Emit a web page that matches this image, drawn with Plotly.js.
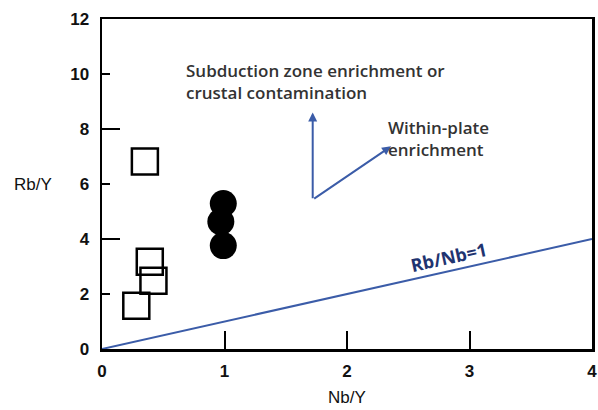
<!DOCTYPE html>
<html><head><meta charset="utf-8">
<script src="https://cdn.plot.ly/plotly-3.0.1.min.js"></script>
<style>html,body{margin:0;padding:0;background:#fff}</style>
</head><body><div id="chart" style="width:598px;height:410px"></div>
<script>
// Open squares
const sqX = [0.35, 0.39, 0.42, 0.28];
const sqY = [6.82, 3.17, 2.48, 1.57];
// Filled circles
const ciX = [0.99, 0.97, 0.99];
const ciY = [5.29, 4.63, 3.76];
// Reference line Rb/Nb = 1
const lineX = [0, 4];
const lineY = [0, 4];
// Arrow vectors: common origin and tips
const arrowOrigin = [1.72, 5.43];
const arrowTips = [[1.72, 8.6], [2.36, 7.37]];
const xTicks = [0, 1, 2, 3, 4];
const yTicks = [0, 2, 4, 6, 8, 10, 12];

const blue = '#3b5ca8';
const traces = [
  {x: lineX, y: lineY, mode: 'lines', line: {color: blue, width: 2}, hoverinfo: 'skip'},
  {x: sqX, y: sqY, mode: 'markers', marker: {symbol: 'square-open', size: 26, color: '#000', line: {width: 2.5, color: '#000'}}},
  {x: ciX, y: ciY, mode: 'markers', marker: {symbol: 'circle', size: 27, color: '#000', line: {width: 0}}},
  {x: [], y: [], yaxis: 'y2', xaxis: 'x'}
];

const tickFont = {family: 'Liberation Sans, Arial, sans-serif', size: 17, color: '#111', weight: 'bold'};
const titleFont = {family: 'Liberation Sans, Arial, sans-serif', size: 17, color: '#111'};
const annFont = {family: 'Open Sans, sans-serif', size: 17, color: '#333', weight: 600};

const annotations = arrowTips.map(t => ({
  x: t[0], y: t[1], ax: arrowOrigin[0], ay: arrowOrigin[1],
  xref: 'x', yref: 'y', axref: 'x', ayref: 'y',
  showarrow: true, arrowhead: 2, arrowsize: 0.9, arrowwidth: 2, arrowcolor: blue, text: ''
}));
annotations.push(
  {x: 0.67, y: 9.74, xref: 'x', yref: 'y', xanchor: 'left', yanchor: 'middle', align: 'left', showarrow: false,
   text: 'Subduction zone enrichment or<br>crustal contamination', font: annFont},
  {x: 2.32, y: 7.66, xref: 'x', yref: 'y', xanchor: 'left', yanchor: 'middle', align: 'left', showarrow: false,
   text: 'Within-plate<br>enrichment', font: annFont},
  {x: 2.83, y: 3.36, xref: 'x', yref: 'y', showarrow: false, textangle: -12.5,
   text: 'Rb/Nb=1', font: {family: 'Open Sans, sans-serif', size: 18, color: '#1f3470', weight: 'bold'}},
  {x: -0.141, y: 0.50, xref: 'paper', yref: 'paper', showarrow: false, xanchor: 'center', yanchor: 'middle',
   text: 'Rb/Y', font: titleFont}
);

const layout = {
  width: 598, height: 410,
  margin: {l: 102, r: 6, t: 19, b: 61},
  paper_bgcolor: '#fff', plot_bgcolor: '#fff',
  showlegend: false,
  xaxis: {range: [0, 4], tickvals: xTicks, ticks: 'inside', ticklen: 18, tickwidth: 2, tickcolor: '#000',
    showline: true, mirror: true, linewidth: 2.5, linecolor: '#000', showgrid: false, zeroline: false,
    tickfont: tickFont, ticklabelstandoff: 5, ticklabeloverflow: 'allow',
    title: {text: 'Nb/Y', font: titleFont, standoff: 11}},
  yaxis: {range: [0, 12], tickvals: yTicks, ticks: 'inside', ticklen: 8, tickwidth: 2, tickcolor: '#000',
    showline: true, mirror: true, linewidth: 2.5, linecolor: '#000', showgrid: false, zeroline: false,
    tickfont: tickFont, ticklabelstandoff: 7, ticklabeloverflow: 'allow'},
  yaxis2: {range: [0, 12], overlaying: 'y', tickvals: [4, 8], ticks: 'inside', ticklen: 18, tickwidth: 2,
    tickcolor: '#000', showticklabels: false, showgrid: false, zeroline: false, showline: false},
  annotations: annotations
};
Plotly.newPlot('chart', traces, layout, {displayModeBar: false, staticPlot: true});
</script></body></html>
